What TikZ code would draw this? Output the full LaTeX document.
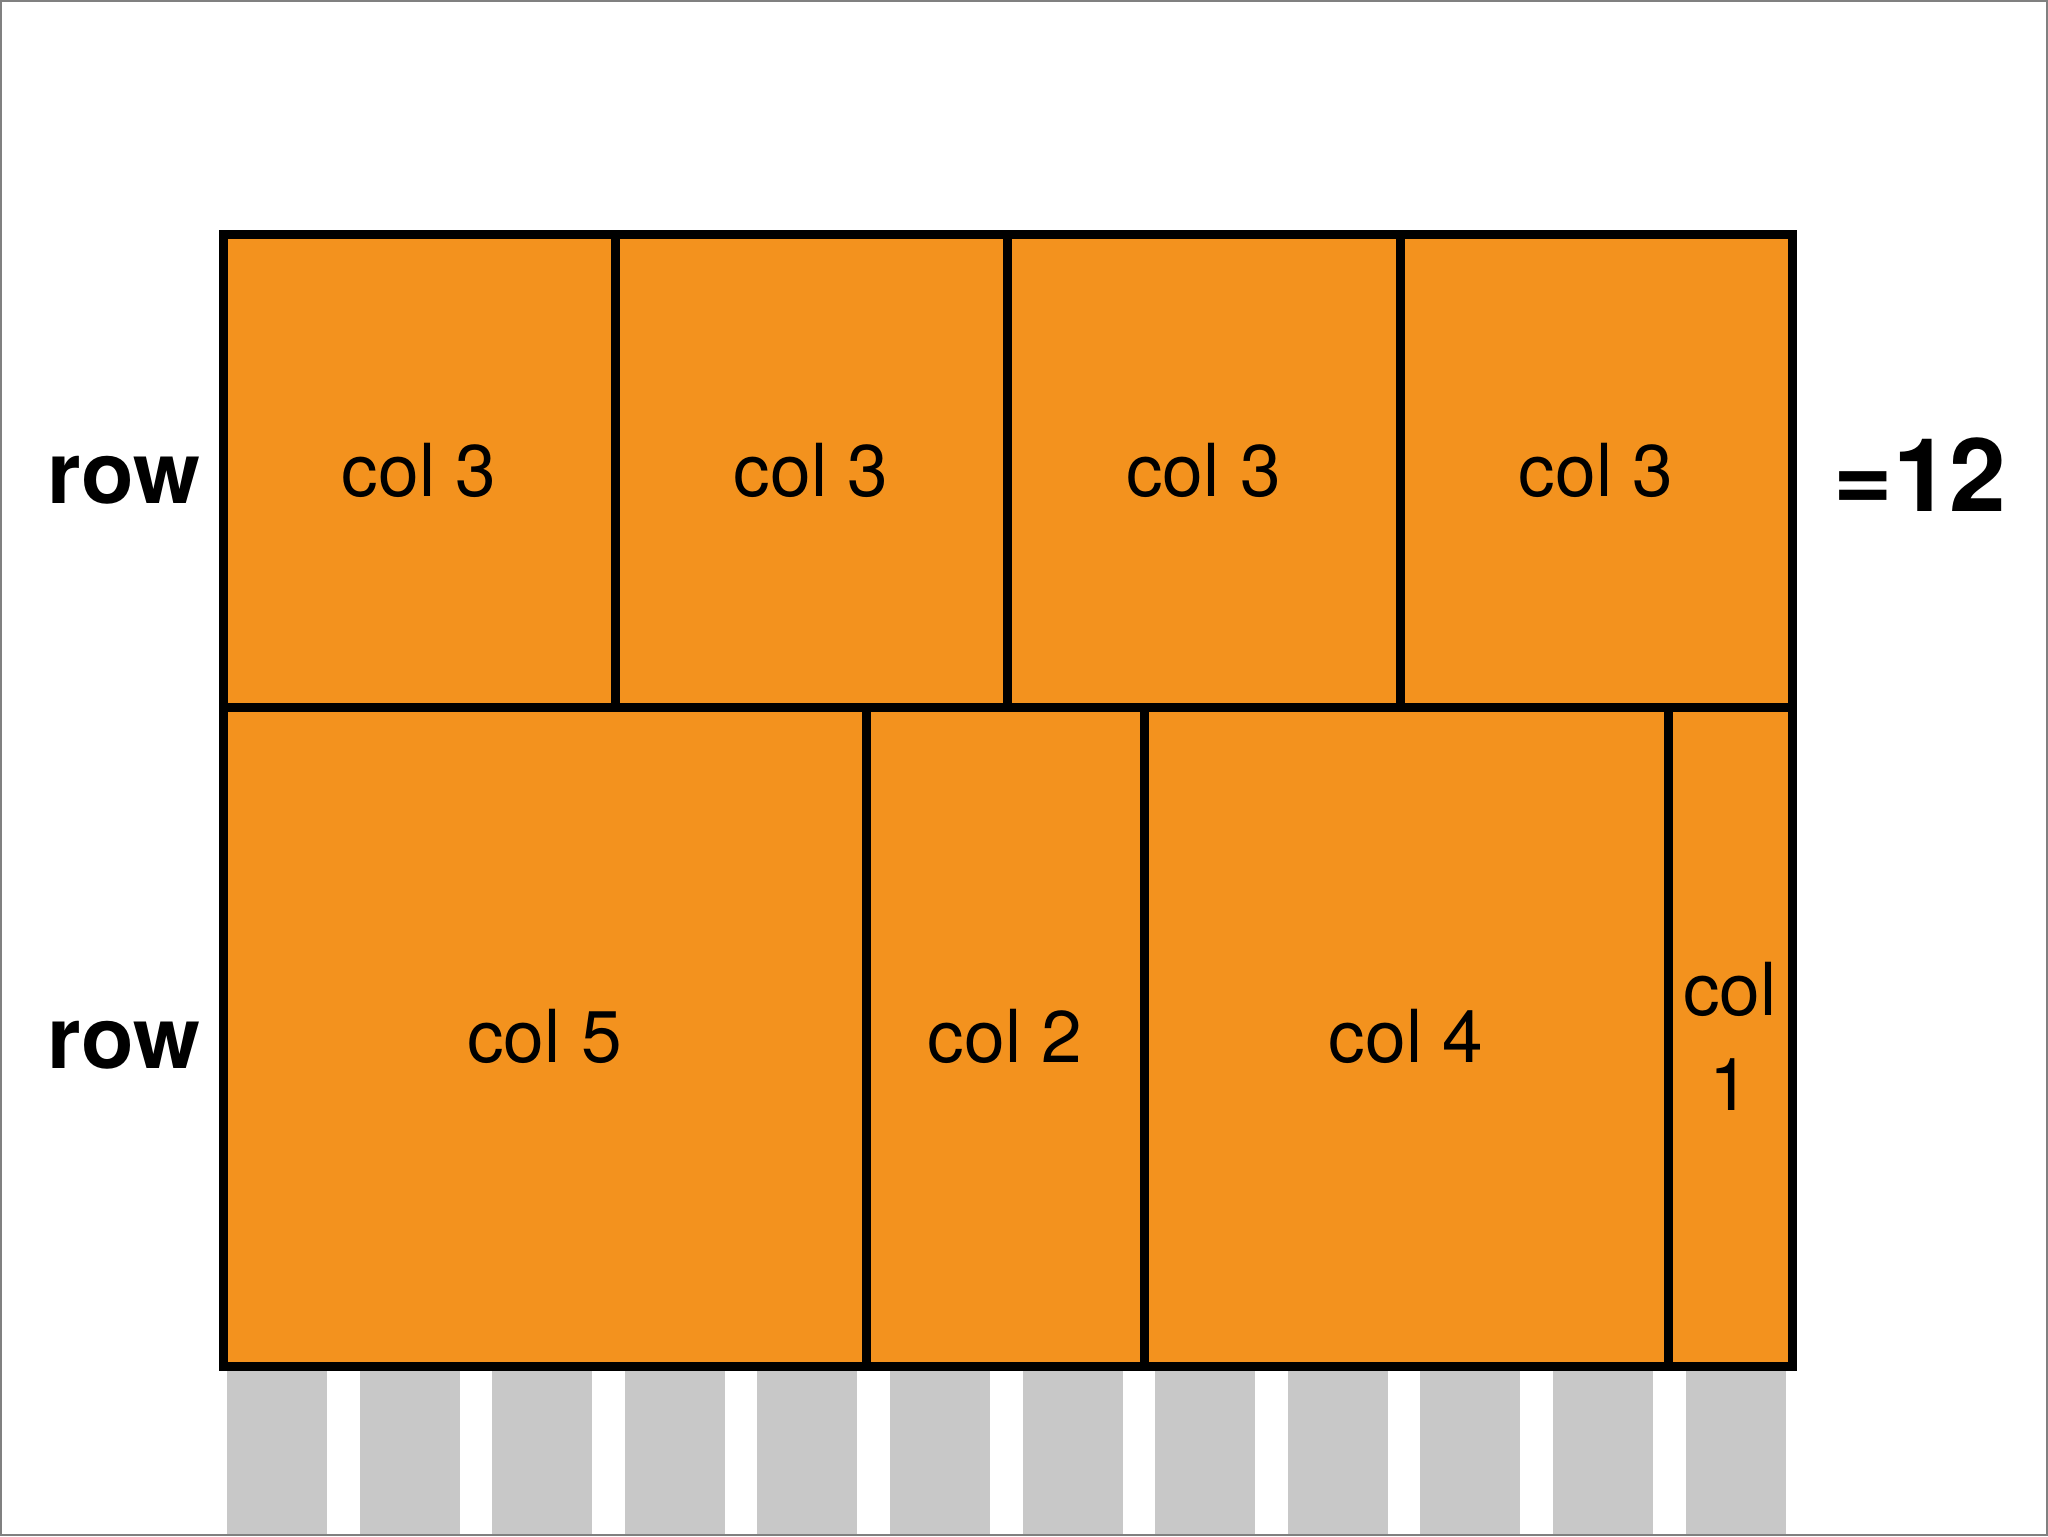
\documentclass[tikz,border=0pt]{standalone}
\usepackage{fontspec}
\setmainfont{TeX Gyre Heros}
\definecolor{cellorange}{RGB}{243,146,30}
\definecolor{bargray}{RGB}{200,200,200}
\definecolor{framegray}{RGB}{128,128,128}
\tikzset{
  cell/.style={draw=black, fill=cellorange, line width=0.9mm, inner sep=0pt, anchor=center,
    font=\fontsize{20.8}{25}\selectfont, align=center},
  rowlabel/.style={font=\fontsize{24.5}{29}\selectfont\bfseries, anchor=base, inner sep=0pt},
  sumlabel/.style={font=\fontsize{29}{34}\selectfont\bfseries, anchor=base, inner sep=0pt},
  gridbar/.style={fill=bargray, draw=none}
}
\begin{document}
\begin{tikzpicture}[x=0.1mm,y=-0.1mm]
\useasboundingbox (0,0) rectangle (2048,1536);
\fill[white] (0,0) rectangle (2048,1536);
% grid columns (12)
\foreach \i in {0,...,11}{
  \fill[bargray] ({227+132.6*\i},1370) rectangle ({327+132.6*\i},1534);
}
% top row
\node[cell, minimum width=392*0.1mm, minimum height=473*0.1mm] (t1) at (419,470.5) {col 3};
\node[cell, minimum width=392*0.1mm, minimum height=473*0.1mm] (t2) at (811,470.5) {col 3};
\node[cell, minimum width=393*0.1mm, minimum height=473*0.1mm] (t3) at (1203.5,470.5) {col 3};
\node[cell, minimum width=392*0.1mm, minimum height=473*0.1mm] (t4) at (1596,470.5) {col 3};
% bottom row
\node[cell, minimum width=643*0.1mm, minimum height=659*0.1mm] (b1) at (544.5,1036.5) {col 5};
\node[cell, minimum width=278*0.1mm, minimum height=659*0.1mm] (b2) at (1005,1036.5) {col 2};
\node[cell, minimum width=524*0.1mm, minimum height=659*0.1mm] (b3) at (1406,1036.5) {col 4};
\node[cell, minimum width=124*0.1mm, minimum height=659*0.1mm] (b4) at (1730,1036.5) {col\\[2pt]1};
% labels
\node[rowlabel] (r1) at (124,503) {row};
\node[rowlabel] (r2) at (124,1068) {row};
\node[sumlabel] (sum) at (1920,511) {=12};
% frame
\draw[framegray, line width=0.2mm] (1,1) rectangle (2047,1535);
\end{tikzpicture}
\end{document}
